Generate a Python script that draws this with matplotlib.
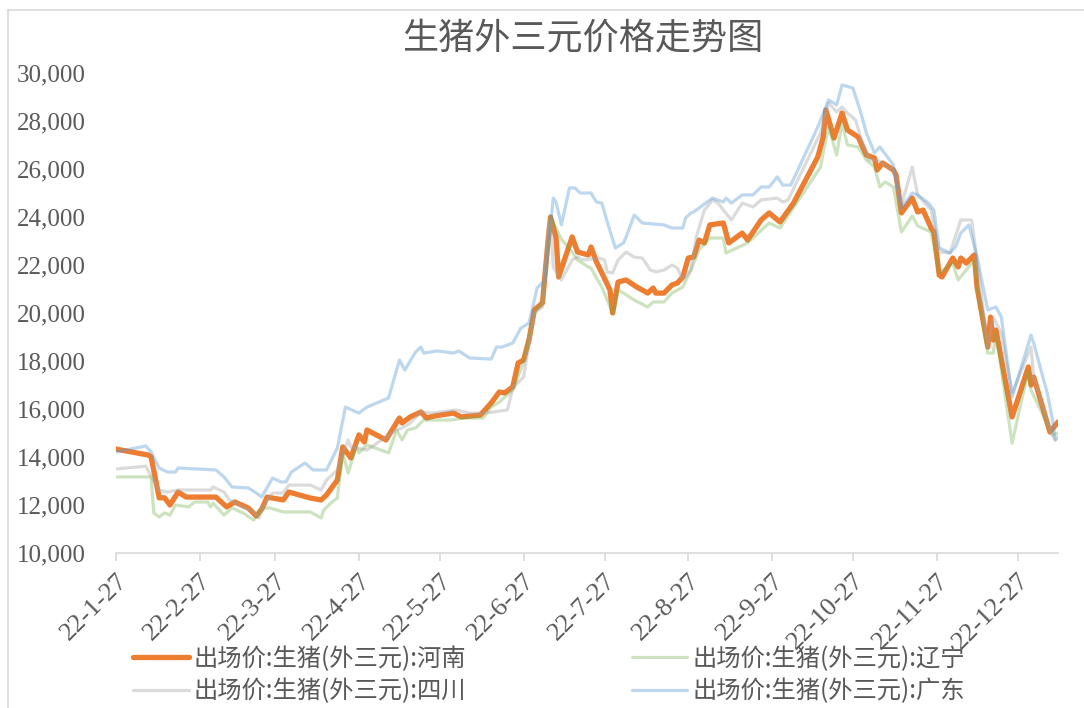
import matplotlib
matplotlib.use("Agg")
import matplotlib.pyplot as plt
from matplotlib.lines import Line2D
import pandas as pd

title = "生猪外三元价格走势图"
series_names = ["出场价:生猪(外三元):河南", "出场价:生猪(外三元):辽宁",
                "出场价:生猪(外三元):四川", "出场价:生猪(外三元):广东"]

henan_dates = ["2022-01-27","2022-02-08","2022-02-09","2022-02-12","2022-02-14","2022-02-16","2022-02-19","2022-02-22",
    "2022-03-05","2022-03-09","2022-03-12","2022-03-17","2022-03-20","2022-03-22","2022-03-24","2022-03-30",
    "2022-04-01","2022-04-09","2022-04-13","2022-04-15","2022-04-19","2022-04-21","2022-04-24","2022-04-27",
    "2022-04-29","2022-04-30","2022-05-07","2022-05-12","2022-05-13","2022-05-16","2022-05-20","2022-05-22",
    "2022-05-25","2022-06-01","2022-06-04","2022-06-11","2022-06-15","2022-06-18","2022-06-20","2022-06-23",
    "2022-06-25","2022-06-27","2022-06-29","2022-07-01","2022-07-04","2022-07-06","2022-07-07","2022-07-09",
    "2022-07-10","2022-07-15","2022-07-17","2022-07-21","2022-07-22","2022-07-24","2022-07-26","2022-07-29",
    "2022-07-30","2022-08-01","2022-08-04","2022-08-08","2022-08-12","2022-08-14","2022-08-15","2022-08-18",
    "2022-08-21","2022-08-23","2022-08-25","2022-08-27","2022-08-29","2022-08-31","2022-09-02","2022-09-04",
    "2022-09-09","2022-09-11","2022-09-16","2022-09-18","2022-09-23","2022-09-26","2022-09-30","2022-10-05",
    "2022-10-14","2022-10-16","2022-10-17","2022-10-20","2022-10-23","2022-10-25","2022-10-29","2022-11-01",
    "2022-11-04","2022-11-05","2022-11-07","2022-11-11","2022-11-12","2022-11-14","2022-11-18","2022-11-20",
    "2022-11-22","2022-11-25","2022-11-26","2022-11-28","2022-11-29","2022-12-03","2022-12-05","2022-12-06",
    "2022-12-08","2022-12-11","2022-12-12","2022-12-16","2022-12-17","2022-12-18","2022-12-19","2022-12-25",
    "2022-12-31","2023-01-01","2023-01-02","2023-01-08","2023-01-11"]
henan_values = [14330,14080,14000,12300,12300,12000,12540,12330,
    12330,11920,12125,11875,11540,11830,12330,12210,
    12540,12290,12210,12420,13040,14420,13960,14920,
    14625,15125,14710,15625,15420,15670,15875,15625,
    15710,15830,15670,15750,16250,16710,16670,16920,
    17920,18040,18875,20125,20420,22920,24000,23170,
    21500,23170,22540,22420,22750,22125,21670,20960,
    20000,21290,21375,21080,20830,21040,20830,20830,
    21170,21250,21500,22290,22330,23040,22920,23670,
    23750,22920,23330,23040,23875,24170,23790,24580,
    26500,27330,28460,27290,28330,27625,27330,26580,
    26460,25960,26250,25960,25750,24170,24790,24210,
    24290,23540,23375,21580,21500,22290,21920,22290,
    22080,22420,21080,18580,19830,18875,19290,15670,
    17750,17000,17330,15040,15460]

liaoning_dates = ["2022-01-27","2022-02-09","2022-02-10","2022-02-12","2022-02-14","2022-02-16","2022-02-18","2022-02-23",
    "2022-02-25","2022-03-02","2022-03-03","2022-03-04","2022-03-08","2022-03-11","2022-03-15","2022-03-19",
    "2022-03-20","2022-03-22","2022-03-25","2022-03-30","2022-04-09","2022-04-13","2022-04-14","2022-04-17",
    "2022-04-19","2022-04-21","2022-04-23","2022-04-26","2022-04-27","2022-04-30","2022-05-08","2022-05-11",
    "2022-05-13","2022-05-15","2022-05-18","2022-05-21","2022-05-31","2022-06-05","2022-06-12","2022-06-15",
    "2022-06-18","2022-06-23","2022-06-27","2022-07-01","2022-07-04","2022-07-07","2022-07-11","2022-07-15",
    "2022-07-17","2022-07-21","2022-07-22","2022-07-24","2022-07-26","2022-07-30","2022-08-01","2022-08-03",
    "2022-08-07","2022-08-12","2022-08-14","2022-08-18","2022-08-21","2022-08-25","2022-08-28","2022-08-31",
    "2022-09-04","2022-09-09","2022-09-10","2022-09-18","2022-09-26","2022-09-30","2022-10-15","2022-10-16",
    "2022-10-18","2022-10-21","2022-10-23","2022-10-25","2022-10-29","2022-11-01","2022-11-04","2022-11-06",
    "2022-11-08","2022-11-11","2022-11-14","2022-11-18","2022-11-20","2022-11-25","2022-11-28","2022-12-03",
    "2022-12-05","2022-12-11","2022-12-12","2022-12-16","2022-12-18","2022-12-19","2022-12-25","2022-12-31",
    "2023-01-01","2023-01-09","2023-01-11"]
liaoning_values = [13170,13170,11670,11500,11670,11580,12000,11920,
    12125,12125,11920,12080,11580,11875,11670,11375,
    11500,11875,11875,11710,11710,11460,11790,12125,
    12290,14170,13330,14420,14170,14500,14170,15125,
    14710,15125,15210,15540,15540,15625,15625,16080,
    16290,16790,17960,20040,20420,24000,23080,22540,
    22210,21920,21875,21460,21080,20000,20960,20830,
    20540,20250,20460,20460,20830,21080,21790,22625,
    23125,23125,22500,22920,23750,23540,26080,26670,
    27750,26580,27920,27000,26920,26375,26080,25250,
    25460,25250,23375,24040,23625,23375,21670,22080,
    21375,22210,21080,18330,18330,19170,14580,17625,
    16790,14920,15000]

sichuan_dates = ["2022-01-27","2022-02-07","2022-02-10","2022-02-12","2022-02-15","2022-02-19","2022-03-03","2022-03-04",
    "2022-03-08","2022-03-10","2022-03-15","2022-03-19","2022-03-21","2022-03-22","2022-03-24","2022-03-26",
    "2022-03-30","2022-04-01","2022-04-09","2022-04-13","2022-04-15","2022-04-19","2022-04-23","2022-04-24",
    "2022-04-30","2022-05-07","2022-05-11","2022-05-13","2022-05-16","2022-05-20","2022-05-24","2022-06-02",
    "2022-06-07","2022-06-13","2022-06-21","2022-06-23","2022-06-27","2022-06-29","2022-07-01","2022-07-04",
    "2022-07-06","2022-07-07","2022-07-08","2022-07-11","2022-07-13","2022-07-15","2022-07-17","2022-07-19",
    "2022-07-25","2022-07-27","2022-07-28","2022-07-30","2022-08-01","2022-08-04","2022-08-07","2022-08-10",
    "2022-08-13","2022-08-15","2022-08-18","2022-08-21","2022-08-23","2022-08-25","2022-08-28","2022-08-30",
    "2022-09-02","2022-09-05","2022-09-07","2022-09-12","2022-09-16","2022-09-20","2022-09-23","2022-09-29",
    "2022-10-01","2022-10-03","2022-10-15","2022-10-18","2022-10-21","2022-10-23","2022-10-25","2022-10-28",
    "2022-10-30","2022-11-02","2022-11-05","2022-11-11","2022-11-14","2022-11-18","2022-11-20","2022-11-25",
    "2022-11-28","2022-12-02","2022-12-06","2022-12-10","2022-12-12","2022-12-16","2022-12-18","2022-12-21",
    "2022-12-25","2023-01-01","2023-01-02","2023-01-08","2023-01-10"]
sichuan_values = [13500,13620,13000,12625,12540,12625,12625,12750,
    12540,12210,11920,11710,11460,11790,12210,12500,
    12500,12830,12830,12625,13040,13460,14710,14420,
    14290,14830,15125,15210,15420,15875,15830,15960,
    15830,15830,15960,16875,17330,18750,20000,20250,
    23460,23875,21920,21375,21790,22210,22330,22210,
    22290,22210,21710,21670,22210,22540,22330,22290,
    21790,21710,21790,22000,21875,21375,21790,23170,
    24290,24710,24580,23875,24580,24420,24710,24790,
    24625,24710,27500,28750,28375,28580,28330,28040,
    27290,26375,26375,25960,24500,26080,24920,24290,
    22540,22500,23875,23875,22210,18580,19830,19170,
    16670,18580,17330,15125,14710]

guangdong_dates = ["2022-01-27","2022-02-07","2022-02-09","2022-02-12","2022-02-15","2022-02-18","2022-02-19","2022-03-05",
    "2022-03-08","2022-03-11","2022-03-17","2022-03-20","2022-03-22","2022-03-26","2022-03-29","2022-03-31",
    "2022-04-02","2022-04-07","2022-04-10","2022-04-15","2022-04-19","2022-04-22","2022-04-27","2022-04-30",
    "2022-05-08","2022-05-12","2022-05-14","2022-05-18","2022-05-20","2022-05-21","2022-05-26","2022-06-01",
    "2022-06-03","2022-06-07","2022-06-15","2022-06-17","2022-06-19","2022-06-23","2022-06-26","2022-06-29",
    "2022-07-01","2022-07-02","2022-07-05","2022-07-08","2022-07-09","2022-07-11","2022-07-14","2022-07-16",
    "2022-07-18","2022-07-22","2022-07-24","2022-07-26","2022-07-28","2022-07-31","2022-08-03","2022-08-04",
    "2022-08-07","2022-08-10","2022-08-18","2022-08-21","2022-08-25","2022-08-26","2022-08-28","2022-08-29",
    "2022-09-05","2022-09-09","2022-09-10","2022-09-12","2022-09-16","2022-09-20","2022-09-23","2022-09-26",
    "2022-09-29","2022-10-01","2022-10-04","2022-10-14","2022-10-18","2022-10-21","2022-10-23","2022-10-27",
    "2022-10-30","2022-11-01","2022-11-04","2022-11-06","2022-11-11","2022-11-14","2022-11-18","2022-11-20",
    "2022-11-24","2022-11-26","2022-11-28","2022-12-02","2022-12-04","2022-12-06","2022-12-09","2022-12-12",
    "2022-12-16","2022-12-19","2022-12-21","2022-12-25","2023-01-01","2023-01-02","2023-01-07","2023-01-09",
    "2023-01-10","2023-01-11"]
guangdong_values = [14210,14460,14210,13540,13375,13375,13540,13460,
    13170,12750,12710,12500,12330,13125,12960,12960,
    13375,13750,13460,13460,14375,16080,15830,16080,
    16460,18040,17625,18375,18580,18330,18420,18330,
    18420,18125,18080,18580,18580,18750,19375,19580,
    20540,21040,21375,24790,24625,23670,25210,25210,
    25000,25000,24625,24580,23790,22710,22920,23170,
    24080,23750,23670,23540,23540,23960,24170,24210,
    24790,24625,24790,24580,24920,24920,25250,25250,
    25670,25330,25330,27750,28875,28670,29500,29375,
    28330,27500,26670,26920,26170,24375,25000,24920,
    24580,24290,22710,22500,22750,23330,23670,22330,
    20125,20250,19830,16500,19080,18750,16670,15540,
    14710,14830]

tick_dates = ["2022-01-27","2022-02-27","2022-03-27","2022-04-27","2022-05-27","2022-06-27",
              "2022-07-27","2022-08-27","2022-09-27","2022-10-27","2022-11-27","2022-12-27"]
y_ticks = list(range(10000, 30001, 2000))

cjk = ["Noto Sans CJK SC", "DejaVu Sans"]
serif = ["Liberation Serif", "DejaVu Serif"]
text_color = "#595959"

fig = plt.figure(figsize=(10.84, 7.08), dpi=100)
ax = fig.add_axes([116/1084, 1-553/708, (1058-116)/1084, (553-73)/708])

series = [
    (henan_dates, henan_values, "#ED7D31", 1.0, 3.8),
    (liaoning_dates, liaoning_values, "#70AD47", 0.35, 2.3),
    (sichuan_dates, sichuan_values, "#A5A5A5", 0.4, 2.3),
    (guangdong_dates, guangdong_values, "#5B9BD5", 0.4, 2.3),
]
handles = []
for (d, v, c, a, lw), name in zip(series, series_names):
    ln, = ax.plot(pd.to_datetime(d), v, color=c, alpha=a, lw=lw,
                  solid_joinstyle="round", solid_capstyle="round", label=name)
    handles.append(ln)

ax.set_ylim(10000, 30000)
ax.set_xlim(pd.Timestamp(henan_dates[0]), pd.Timestamp(henan_dates[-1]))
ax.set_yticks(y_ticks)
ax.set_yticklabels([f"{t:,}" for t in y_ticks], family=serif, fontsize=18, color=text_color)
ticks = pd.to_datetime(tick_dates)
ax.set_xticks(ticks)
ax.set_xticklabels([f"{t.year % 100}-{t.month}-{t.day}" for t in ticks],
                   family=serif, fontsize=19, color=text_color,
                   rotation=45, ha="right", rotation_mode="anchor")
for s in ["top", "right", "left"]:
    ax.spines[s].set_visible(False)
ax.spines["bottom"].set_color("#D9D9D9")
ax.spines["bottom"].set_linewidth(1.2)
ax.tick_params(axis="y", length=0, pad=22)
ax.tick_params(axis="x", length=6, width=1.2, color="#D9D9D9", direction="out", pad=6)

fig.text(583/1084, 1-38/708, title, family=cjk, fontsize=26,
         color=text_color, ha="center", va="center")

order = [0, 2, 1, 3]
leg = fig.legend([handles[i] for i in order], [series_names[i] for i in order],
                 ncol=2, loc="center left", bbox_to_anchor=(133/1084, 1-675/708),
                 frameon=False, prop={"family": cjk, "size": 17.5},
                 handlelength=2.3, handletextpad=0.2, columnspacing=6.8,
                 labelspacing=0.28, borderaxespad=0, borderpad=0)
for t in leg.get_texts():
    t.set_color(text_color)
for lh in leg.get_lines():
    lh.set_solid_capstyle("round")

fig.add_artist(Line2D([8/1084, 1], [1-10/708, 1-10/708], color="#D9D9D9", lw=1.2))
fig.add_artist(Line2D([8/1084, 8/1084], [0, 1-10/708], color="#D9D9D9", lw=1.2))

fig.savefig("out.png", dpi=100, facecolor="white")
